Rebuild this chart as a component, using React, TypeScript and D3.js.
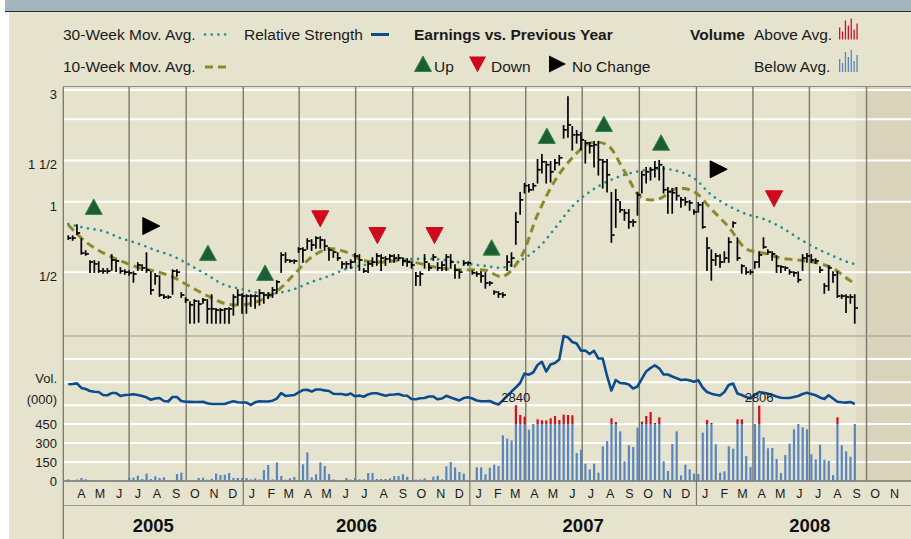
import React from 'react';
import * as d3 from 'd3';

// weekly bars, first one on this friday
const firstWeek = new Date(2005, 2, 25);

const high = [
  0.714, 0.714, 0.796, 0.693, 0.616, 0.559, 0.559, 0.553, 0.517, 0.517,
  0.593, 0.564, 0.522, 0.511, 0.506, 0.501, 0.548, 0.537, 0.604, 0.501,
  0.492, 0.482, 0.4, 0.396, 0.511, 0.511, 0.408, 0.388, 0.373, 0.381,
  0.377, 0.385, 0.381, 0.4, 0.349, 0.349, 0.349, 0.352, 0.4, 0.42,
  0.404, 0.4, 0.4, 0.4, 0.42, 0.408, 0.408, 0.429, 0.459, 0.604,
  0.604, 0.564, 0.564, 0.635, 0.635, 0.693, 0.687, 0.707, 0.707, 0.687,
  0.635, 0.616, 0.604, 0.553, 0.553, 0.564, 0.599, 0.593, 0.517, 0.553,
  0.575, 0.599, 0.593, 0.581, 0.593, 0.593, 0.593, 0.575, 0.57, 0.553,
  0.497, 0.501, 0.593, 0.543, 0.593, 0.548, 0.553, 0.593, 0.593, 0.537,
  0.511, 0.559, 0.553, 0.506, 0.501, 0.501, 0.497, 0.455, 0.416, 0.412,
  0.408, 0.587, 0.604, 0.896, 1.093, 1.194, 1.182, 1.194, 1.511, 1.588,
  1.482, 1.482, 1.511, 1.572, 2.108, 2.8, 2.088, 2.008, 1.969, 1.821,
  1.785, 1.803, 1.803, 1.511, 1.511, 1.093, 1.125, 0.999, 0.923, 0.923,
  0.836, 1.093, 1.343, 1.397, 1.397, 1.482, 1.497, 1.411, 1.148, 1.137,
  1.148, 1.04, 1.04, 1.009, 0.923, 0.99, 0.99, 0.7, 0.622, 0.599,
  0.593, 0.61, 0.7, 0.82, 0.7, 0.537, 0.522, 0.511, 0.553, 0.61,
  0.7, 0.622, 0.61, 0.587, 0.532, 0.527, 0.511, 0.501, 0.501, 0.593,
  0.599, 0.593, 0.57, 0.527, 0.446, 0.532, 0.501, 0.501, 0.4, 0.4,
  0.4, 0.4,
];

const low = [
  0.693, 0.687, 0.728, 0.599, 0.593, 0.501, 0.501, 0.501, 0.497, 0.497,
  0.511, 0.506, 0.497, 0.492, 0.487, 0.455, 0.511, 0.511, 0.501, 0.404,
  0.446, 0.396, 0.388, 0.388, 0.404, 0.482, 0.392, 0.373, 0.304, 0.304,
  0.307, 0.37, 0.304, 0.304, 0.304, 0.304, 0.304, 0.304, 0.329, 0.363,
  0.335, 0.335, 0.359, 0.352, 0.363, 0.37, 0.388, 0.392, 0.408, 0.501,
  0.553, 0.553, 0.548, 0.61, 0.553, 0.629, 0.622, 0.635, 0.635, 0.622,
  0.564, 0.581, 0.564, 0.522, 0.522, 0.522, 0.553, 0.511, 0.501, 0.501,
  0.532, 0.537, 0.511, 0.537, 0.553, 0.553, 0.564, 0.537, 0.532, 0.522,
  0.441, 0.441, 0.522, 0.511, 0.564, 0.511, 0.511, 0.511, 0.522, 0.473,
  0.473, 0.537, 0.537, 0.492, 0.482, 0.455, 0.429, 0.441, 0.404, 0.392,
  0.392, 0.511, 0.532, 0.66, 0.887, 1.093, 1.103, 1.125, 1.206, 1.33,
  1.206, 1.218, 1.37, 1.439, 1.875, 1.893, 1.667, 1.785, 1.667, 1.467,
  1.619, 1.411, 1.304, 1.148, 1.103, 0.673, 0.78, 0.905, 0.836, 0.773,
  0.788, 0.879, 1.093, 1.206, 1.242, 1.279, 1.242, 1.093, 0.896, 0.896,
  1.019, 0.951, 0.97, 0.923, 0.887, 0.905, 0.773, 0.511, 0.464, 0.537,
  0.527, 0.553, 0.553, 0.78, 0.564, 0.497, 0.492, 0.492, 0.522, 0.527,
  0.635, 0.599, 0.564, 0.501, 0.501, 0.511, 0.492, 0.482, 0.455, 0.511,
  0.553, 0.553, 0.548, 0.501, 0.408, 0.42, 0.455, 0.392, 0.388, 0.338,
  0.37, 0.304,
];

const close = [
  0.7, 0.7, 0.736, 0.604, 0.599, 0.553, 0.543, 0.506, 0.506, 0.506,
  0.564, 0.559, 0.506, 0.501, 0.497, 0.492, 0.537, 0.522, 0.511, 0.42,
  0.482, 0.4, 0.392, 0.392, 0.506, 0.501, 0.4, 0.381, 0.363, 0.377,
  0.366, 0.381, 0.349, 0.349, 0.345, 0.345, 0.349, 0.349, 0.392, 0.4,
  0.396, 0.396, 0.396, 0.396, 0.408, 0.4, 0.4, 0.42, 0.455, 0.593,
  0.564, 0.559, 0.559, 0.629, 0.622, 0.68, 0.654, 0.7, 0.687, 0.647,
  0.622, 0.61, 0.575, 0.543, 0.543, 0.553, 0.587, 0.564, 0.506, 0.543,
  0.553, 0.587, 0.575, 0.57, 0.587, 0.575, 0.575, 0.559, 0.553, 0.537,
  0.482, 0.492, 0.553, 0.522, 0.581, 0.522, 0.537, 0.581, 0.553, 0.511,
  0.501, 0.548, 0.548, 0.497, 0.492, 0.482, 0.45, 0.45, 0.412, 0.404,
  0.4, 0.553, 0.575, 0.82, 1.019, 1.171, 1.125, 1.171, 1.37, 1.482,
  1.439, 1.343, 1.467, 1.541, 2.028, 2.129, 1.931, 1.931, 1.839, 1.785,
  1.733, 1.751, 1.511, 1.482, 1.304, 0.721, 1.019, 0.923, 0.896, 0.82,
  0.82, 1.071, 1.304, 1.343, 1.37, 1.397, 1.439, 1.125, 1.103, 1.093,
  1.061, 1.019, 0.999, 0.99, 0.905, 0.97, 0.78, 0.635, 0.564, 0.587,
  0.553, 0.575, 0.673, 0.812, 0.575, 0.532, 0.501, 0.501, 0.553, 0.593,
  0.641, 0.61, 0.599, 0.532, 0.527, 0.522, 0.501, 0.497, 0.464, 0.575,
  0.587, 0.564, 0.559, 0.511, 0.437, 0.522, 0.487, 0.396, 0.396, 0.392,
  0.392, 0.352,
];

// weekly volume in thousands
const volume = [
  13, 5, 11, 24, 13, 5, 8, 5, 3, 5,
  3, 5, 8, 5, 26, 26, 42, 16, 58, 16,
  37, 24, 29, 5, 5, 55, 66, 3, 3, 3,
  24, 26, 11, 18, 58, 47, 50, 63, 24, 24,
  24, 24, 13, 21, 13, 87, 126, 13, 147, 39,
  11, 21, 32, 5, 132, 226, 29, 53, 147, 118,
  55, 13, 5, 3, 24, 11, 24, 13, 13, 63,
  63, 16, 16, 16, 21, 39, 39, 53, 34, 8,
  11, 13, 21, 3, 34, 42, 13, 116, 150, 108,
  71, 58, 2, 2, 108, 108, 53, 105, 129, 118,
  361, 334, 321, 2840, 1602, 1389, 405, 450, 1047, 919,
  919, 1176, 1474, 962, 1645, 1602, 1560, 221, 247, 137,
  92, 137, 66, 274, 316, 1176, 706, 392, 155, 282,
  268, 421, 749, 1474, 1986, 578, 1304, 155, 79, 292,
  392, 45, 129, 92, 58, 55, 382, 962, 578, 290,
  66, 76, 274, 255, 1047, 1047, 197, 111, 450, 2806,
  345, 258, 261, 174, 63, 205, 295, 408, 450, 424,
  408, 211, 171, 287, 168, 158, 47, 1304, 282, 234,
  192, 450,
];

const relStrength = [
  58.2, 58.4, 59.0, 55.0, 54.1, 52.4, 51.7, 51.5, 48.9, 48.7,
  50.6, 50.6, 48.1, 48.9, 49.1, 49.5, 48.9, 48.1, 46.9, 44.8,
  45.9, 46.3, 43.7, 43.3, 47.2, 47.2, 43.7, 43.1, 43.0, 42.9,
  42.9, 43.1, 41.7, 41.1, 41.1, 41.1, 41.1, 42.4, 43.5, 42.6,
  42.4, 42.4, 40.3, 42.6, 43.5, 43.3, 43.3, 44.0, 45.8, 50.6,
  48.1, 48.5, 48.9, 51.1, 53.2, 53.5, 51.9, 53.7, 53.7, 52.9,
  52.4, 50.0, 49.8, 49.8, 48.9, 50.2, 47.8, 48.4, 47.4, 49.4,
  50.4, 50.4, 49.4, 48.3, 49.1, 49.4, 49.8, 48.5, 48.3, 45.5,
  45.2, 46.1, 46.3, 47.6, 47.6, 45.2, 45.9, 48.2, 46.8, 45.5,
  44.2, 46.3, 46.9, 45.9, 44.2, 43.5, 43.5, 43.7, 42.0, 40.7,
  44.2, 48.1, 51.9, 55.4, 59.3, 67.5, 66.5, 68.4, 74.9, 77.7,
  69.3, 75.3, 76.6, 79.7, 100.0, 98.8, 94.8, 93.5, 87.3, 87.4,
  84.4, 87.2, 80.5, 80.5, 65.4, 52.8, 61.9, 59.3, 59.0, 58.0,
  54.5, 56.3, 62.8, 69.3, 72.3, 74.6, 72.0, 66.7, 66.7, 64.9,
  63.5, 61.9, 62.3, 61.6, 60.4, 61.7, 55.4, 51.5, 50.1, 49.1,
  48.5, 51.5, 57.6, 58.9, 50.2, 48.9, 47.2, 45.9, 48.9, 51.5,
  50.8, 50.1, 48.9, 47.6, 46.5, 46.3, 46.3, 47.2, 48.1, 49.8,
  50.8, 49.8, 48.7, 46.8, 45.5, 48.7, 45.9, 43.1, 42.6, 42.3,
  42.9, 41.1,
];

// moving averages read every 4th week, last value = last week
const maStep = 4;
const ma10 = [
  0.796, 0.675, 0.605, 0.56, 0.525, 0.505, 0.478, 0.435, 0.397, 0.368,
  0.363, 0.378, 0.415, 0.49, 0.581, 0.63, 0.61, 0.562, 0.553, 0.562,
  0.55, 0.528, 0.515, 0.512, 0.51, 0.48, 0.573, 0.88, 1.23, 1.54,
  1.78, 1.75, 1.35, 1.04, 1.03, 1.14, 1.105, 0.93, 0.78, 0.63,
  0.604, 0.575, 0.564, 0.55, 0.52, 0.46, 0.452,
];
const ma30 = [
  0.804, 0.773, 0.75, 0.7, 0.664, 0.622, 0.587, 0.537, 0.487, 0.441,
  0.424, 0.408, 0.408, 0.424, 0.455, 0.482, 0.517, 0.537, 0.553, 0.564,
  0.57, 0.57, 0.559, 0.543, 0.532, 0.524, 0.56, 0.632, 0.77, 0.955,
  1.103, 1.218, 1.304, 1.357, 1.384, 1.357, 1.26, 1.071, 0.96, 0.887,
  0.845, 0.78, 0.7, 0.635, 0.587, 0.548, 0.543,
];

const earnDates = [
  '2005-05-05', '2005-08-05', '2005-11-05', '2006-02-05', '2006-05-05', '2006-08-05', '2006-11-05',
  '2007-02-05', '2007-05-05', '2007-08-05', '2007-11-05', '2008-02-05', '2008-05-05',
];
const earnTypes = ['up', 'flat', 'up', 'up', 'down', 'down', 'down', 'up', 'up', 'up', 'up', 'flat', 'down'];
const earnLevels = [0.951, 0.788, 0.604, 0.497, 0.85, 0.721, 0.721, 0.637, 1.909, 2.148, 1.787, 1.376, 1.035];

const priceTicks = [3, 2.25, 1.5, 1, 0.5];
const priceTickLabels = ['3', '', '1 1/2', '1', '1/2'];
const volTicks = [150, 300, 450];
const volTickLabels = ['0', '150', '300', '450'];
const rsTicks = [40, 60, 80];
const monthInitials = ['J', 'F', 'M', 'A', 'M', 'J', 'J', 'A', 'S', 'O', 'N', 'D'];
const years = [2005, 2006, 2007, 2008];
const legendAbove = [12, 8, 19, 14, 21, 10, 16];
const legendBelow = [13, 9, 20, 15, 22, 11, 17];

const W = 911;
const H = 539;
const FONT = '"Liberation Sans", Arial, sans-serif';
const BG = '#e5e3cd';

const left = 63.3;
const priceTop = 86.5;
const priceBottom = 336;
const volBottom = 481;
const monthBottom = 505.5;

const x = d3.scaleTime().domain([new Date(2005, 2, 17), new Date(2008, 11, 31)]).range([left, 923]);
const y = d3.scaleLog().domain([0.5, 3]).range([272.3, 90]);
const yVol = d3.scaleLinear().domain([0, 450]).range([volBottom, 424]);
const yVolOver = d3.scaleLinear().domain([450, 2840]).range([424, 405.3]);
const yRS = d3.scaleLinear().domain([40, 100]).range([405.3, 336]);

const weeks = close.map((_, i) => d3.timeDay.offset(firstWeek, i * 7));

const maPoints = (vals: number[]) =>
  vals.map((v, k) => [x(weeks[Math.min(k * maStep, weeks.length - 1)]), y(v)] as [number, number]);

const triPath: Record<string, string> = {
  up: 'M0,-8 L8.5,7.5 L-8.5,7.5 Z',
  down: 'M-8.5,-7.5 L8.5,-7.5 L0,8.5 Z',
  flat: 'M-8,-8.5 L9,0 L-8,8.5 Z',
};
const triFill: Record<string, string> = { up: '#1d5b39', down: '#d0081c', flat: '#000' };
const triStroke: Record<string, string> = { up: '#2e8b3b', down: '#d0081c', flat: '#000' };

export default function App() {
  const line = d3.line().curve(d3.curveCatmullRom);
  const rsLine = d3
    .line<number>()
    .x((_, i) => x(weeks[i]))
    .y((d) => yRS(d));

  const lastX = x(weeks[weeks.length - 1]);
  const future = x(new Date(2008, 9, 1));

  // quarter lines, skipping the one hugging the left edge
  const quarters = d3.timeMonth
    .every(3)!
    .range(new Date(2005, 0, 1), new Date(2009, 0, 1))
    .filter((d) => x(d) > left + 20 && x(d) < W);
  const yearStarts = years.slice(1).map((yr) => new Date(yr, 0, 1));
  const months = d3.timeMonth.range(new Date(2005, 3, 1), new Date(2008, 11, 1));

  // largest volume each year, when it runs off the scale
  const volLabels = years
    .map((yr) => {
      const idx = weeks.map((w, i) => i).filter((i) => weeks[i].getFullYear() === yr);
      const best = idx.reduce((a, b) => (volume[b] > volume[a] ? b : a), idx[0]);
      return best;
    })
    .filter((i) => volume[i] > 450);

  const [d0, d1] = x.domain();

  return (
    <svg width={W} height={H} style={{ position: 'absolute', left: 0, top: 0 }} fontFamily={FONT}>
      <rect x={0} y={0} width={W} height={H} fill="#fff" />
      <rect x={9} y={0} width={W - 9} height={H} fill={BG} />
      <rect x={5} y={0} width={W - 5} height={11} fill="#a3b5bf" />
      <line x1={5} x2={W} y1={11.5} y2={11.5} stroke="#2d2d2d" strokeWidth={1.2} />

      {/* shaded area after the last week */}
      <rect x={lastX + 1} y={priceTop} width={future - lastX - 1} height={volBottom - priceTop} fill="#dfdbc5" />
      <rect x={future} y={priceTop} width={W - future} height={volBottom - priceTop} fill="#dad3bc" />

      {/* horizontal grid */}
      {priceTicks.map((t) => (
        <line key={'pg' + t} x1={left} x2={W} y1={y(t)} y2={y(t)} stroke="#fff" strokeWidth={2} />
      ))}
      {rsTicks.map((t) => (
        <line key={'rg' + t} x1={left} x2={W} y1={yRS(t)} y2={yRS(t)} stroke="#fff" strokeWidth={2} />
      ))}
      {volTicks.map((t) => (
        <line key={'vg' + t} x1={left} x2={W} y1={yVol(t)} y2={yVol(t)} stroke="#fff" strokeWidth={2} />
      ))}

      {/* quarter lines */}
      {quarters.map((q) => (
        <line key={+q} x1={x(q)} x2={x(q)} y1={priceTop} y2={volBottom} stroke="#7b786b" strokeWidth={1.4} />
      ))}
      {yearStarts.map((d) => (
        <line key={'ys' + +d} x1={x(d)} x2={x(d)} y1={volBottom} y2={monthBottom} stroke="#7b786b" strokeWidth={1.2} />
      ))}

      {/* frame */}
      <line x1={left} x2={W} y1={priceTop} y2={priceTop} stroke="#8f8c7d" strokeWidth={1.2} />
      <line x1={left} x2={W} y1={priceBottom} y2={priceBottom} stroke="#9b9889" strokeWidth={1.2} />
      <line x1={left} x2={W} y1={volBottom} y2={volBottom} stroke="#777468" strokeWidth={1.6} />
      <line x1={left} x2={W} y1={monthBottom} y2={monthBottom} stroke="#9b9889" strokeWidth={1.2} />
      <line x1={left} x2={left} y1={priceTop} y2={H} stroke="#7b786b" strokeWidth={1.3} />

      {/* axis labels */}
      <g fontSize={13} fill="#1a1a1a" textAnchor="end">
        {priceTicks.map((t, i) => (
          <text key={'pl' + t} x={57} y={y(t) + 8.8}>
            {priceTickLabels[i]}
          </text>
        ))}
        <text x={57} y={yRS(60) + 0.5}>Vol.</text>
        <text x={57} y={yRS(40) - 1}>(000)</text>
        {[0, ...volTicks].map((t, i) => (
          <text key={'vl' + t} x={57} y={yVol(t) + 4.5}>
            {volTickLabels[i]}
          </text>
        ))}
      </g>

      {/* month and year labels */}
      <g fontSize={12.5} fill="#1a1a1a" textAnchor="middle">
        {months.map((m) => (
          <text key={'m' + +m} x={x(new Date(m.getFullYear(), m.getMonth(), 15))} y={497.5}>
            {monthInitials[m.getMonth()]}
          </text>
        ))}
      </g>
      <g fontSize={18.5} fontWeight="bold" fill="#111" textAnchor="middle">
        {years.map((yr) => {
          const a = Math.max(+new Date(yr, 0, 1), +d0);
          const b = Math.min(+new Date(yr + 1, 0, 1), +d1);
          return (
            <text key={yr} x={(x(new Date(a)) + x(new Date(b))) / 2} y={531.5}>
              {yr}
            </text>
          );
        })}
      </g>

      {/* volume */}
      {volume.map((v, i) => {
        const cx = x(weeks[i]);
        const top = yVol(Math.min(v, 450));
        return (
          <g key={'v' + i}>
            <rect x={cx - 1} y={top} width={2.2} height={volBottom - top} fill="#5b86bd" />
            {v > 450 && <rect x={cx - 1} y={yVolOver(v)} width={2.2} height={424 - yVolOver(v)} fill="#cf1020" />}
          </g>
        );
      })}

      {/* relative strength */}
      <path d={rsLine(relStrength) || ''} fill="none" stroke="#0c4c8e" strokeWidth={2.6} strokeLinejoin="round" />

      {volLabels.map((i) => (
        <text key={'vlab' + i} x={x(weeks[i])} y={yVolOver(volume[i]) - 3.5} fontSize={13} textAnchor="middle" fill="#1a1a1a">
          {volume[i]}
        </text>
      ))}

      {/* moving averages */}
      <path
        d={line(maPoints(ma30)) || ''}
        fill="none"
        stroke="#23908f"
        strokeWidth={2.6}
        strokeLinecap="round"
        strokeDasharray="0.1 6.6"
      />
      <path d={line(maPoints(ma10)) || ''} fill="none" stroke="#8a8a2a" strokeWidth={3} strokeDasharray="8 5" />

      {/* weekly price bars */}
      <g stroke="#000" strokeWidth={1.7}>
        {close.map((c, i) => {
          const cx = x(weeks[i]);
          return (
            <g key={'b' + i}>
              <line x1={cx} x2={cx} y1={y(high[i]) - 0.8} y2={y(low[i]) + 0.8} />
              <line x1={cx} x2={cx + 3.2} y1={y(c)} y2={y(c)} />
            </g>
          );
        })}
      </g>

      {/* earnings markers */}
      {earnDates.map((d, i) => (
        <path
          key={'e' + i}
          d={triPath[earnTypes[i]]}
          transform={`translate(${x(new Date(d))},${y(earnLevels[i])})`}
          fill={triFill[earnTypes[i]]}
          stroke={triStroke[earnTypes[i]]}
          strokeWidth={1}
        />
      ))}

      {/* legend */}
      <g fontSize={15.5} fill="#1a1a1a">
        <text x={63} y={39.5}>30-Week Mov. Avg.</text>
        <line x1={205} x2={226} y1={34.5} y2={34.5} stroke="#23908f" strokeWidth={2.6} strokeLinecap="round" strokeDasharray="0.1 6.6" />
        <text x={244} y={39.5}>Relative Strength</text>
        <line x1={371} x2={389} y1={34.5} y2={34.5} stroke="#0c4c8e" strokeWidth={3} />
        <text x={414} y={39.5} fontWeight="bold">Earnings vs. Previous Year</text>
        <text x={690} y={39.5} fontWeight="bold">Volume</text>
        <text x={754} y={39.5}>Above Avg.</text>
        {legendAbove.map((h, k) => (
          <rect key={'la' + k} x={839 + k * 2.9} y={39.5 - h} width={1.3} height={h} fill="#cf1020" />
        ))}

        <text x={63} y={72}>10-Week Mov. Avg.</text>
        <line x1={205} x2={228} y1={67} y2={67} stroke="#8a8a2a" strokeWidth={3} strokeDasharray="8 5" />
        <path d={triPath.up} transform="translate(423,64)" fill={triFill.up} stroke={triStroke.up} />
        <text x={434} y={72}>Up</text>
        <path d={triPath.down} transform="translate(477.5,64)" fill={triFill.down} />
        <text x={491} y={72}>Down</text>
        <path d={triPath.flat} transform="translate(557,64)" fill={triFill.flat} />
        <text x={572} y={72}>No Change</text>
        <text x={754} y={72}>Below Avg.</text>
        {legendBelow.map((h, k) => (
          <rect key={'lb' + k} x={839 + k * 2.9} y={72 - h} width={1.3} height={h} fill="#5b86bd" />
        ))}
      </g>
    </svg>
  );
}
